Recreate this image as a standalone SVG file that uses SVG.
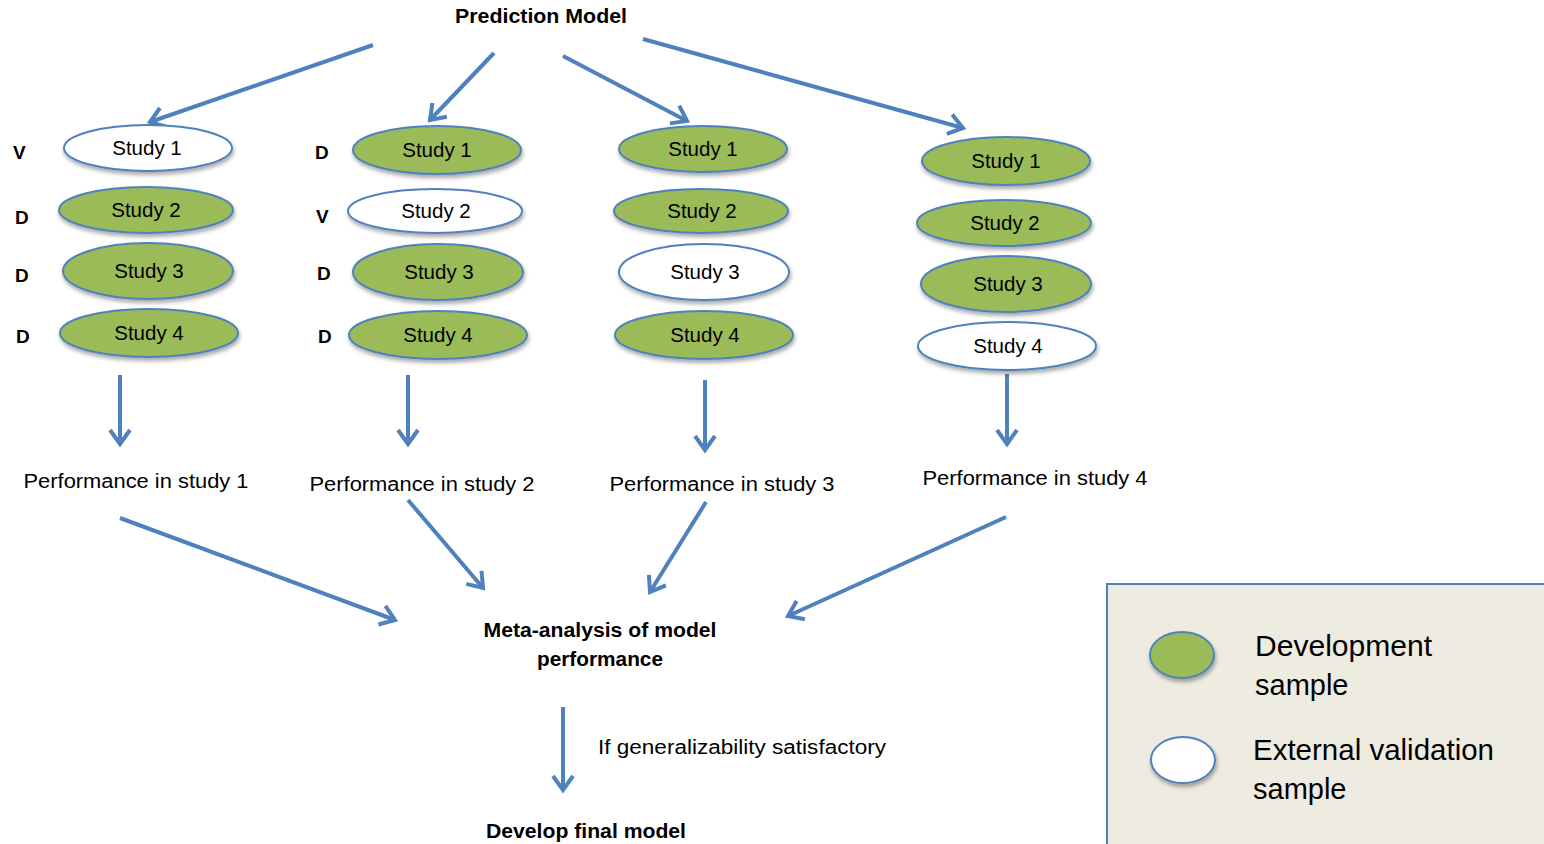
<svg xmlns="http://www.w3.org/2000/svg" width="1544" height="844" viewBox="0 0 1544 844">
<style>
.t{font-family:"Liberation Sans",Arial,sans-serif;fill:#000}
.s{font-size:20.5px;text-anchor:middle}
.p{font-size:20px;text-anchor:middle}
.b{font-weight:bold}
.dev{fill:#9bbb59;stroke:#4f81bd;stroke-width:2;filter:url(#sh)}
.val{fill:#fff;stroke:#4f81bd;stroke-width:2;filter:url(#sh)}
.c{stroke:#4f81bd;stroke-width:4;fill:none;marker-end:url(#ah)}
.lg{font-size:29px}
</style>
<defs>
<marker id="ah" markerUnits="userSpaceOnUse" viewBox="0 0 24 24" refX="20" refY="12" markerWidth="24" markerHeight="24" orient="auto">
<path d="M6,2 L20,12 L6,22" fill="none" stroke="#4f81bd" stroke-width="4" stroke-linejoin="miter"/>
</marker>
<filter id="sh" x="-20%" y="-30%" width="140%" height="170%">
<feGaussianBlur in="SourceAlpha" stdDeviation="2"/>
<feOffset dx="1" dy="3" result="o"/>
<feComponentTransfer><feFuncA type="linear" slope="0.35"/></feComponentTransfer>
<feMerge><feMergeNode/><feMergeNode in="SourceGraphic"/></feMerge>
</filter>
</defs>
<rect width="1544" height="844" fill="#fff"/>

<g id="legend">
<rect x="1107" y="584" width="440" height="264" fill="#eeebe1" stroke="#4f81bd" stroke-width="2"/>
<ellipse class="dev" cx="1182" cy="655" rx="32" ry="23"/>
<ellipse class="val" cx="1183" cy="760" rx="32" ry="23"/>
<text class="t lg" x="1255" y="656" textLength="177" lengthAdjust="spacingAndGlyphs">Development</text>
<text class="t lg" x="1255" y="695">sample</text>
<text class="t lg" x="1253" y="760" textLength="241" lengthAdjust="spacingAndGlyphs">External validation</text>
<text class="t lg" x="1253" y="799">sample</text>
</g>

<g id="connectors">
<line class="c" x1="373" y1="45" x2="150" y2="122"/>
<line class="c" x1="494" y1="53" x2="430" y2="120"/>
<line class="c" x1="563" y1="56" x2="687" y2="121"/>
<line class="c" x1="643" y1="39" x2="963" y2="128"/>
<line class="c" x1="120" y1="375" x2="120" y2="444"/>
<line class="c" x1="408" y1="375" x2="408" y2="444"/>
<line class="c" x1="705" y1="380" x2="705" y2="450"/>
<line class="c" x1="1007" y1="374" x2="1007" y2="444"/>
<line class="c" x1="120" y1="518" x2="395" y2="620"/>
<line class="c" x1="408" y1="500" x2="483" y2="588"/>
<line class="c" x1="706" y1="502" x2="650" y2="592"/>
<line class="c" x1="1006" y1="517" x2="788" y2="616"/>
<line class="c" x1="563" y1="707" x2="563" y2="790"/>
</g>

<g id="prediction-model"><text class="t p b" x="541" y="23" textLength="172" lengthAdjust="spacingAndGlyphs">Prediction Model</text></g>

<g id="col1">
<text class="t b" x="13" y="159" font-size="19">V</text>
<text class="t b" x="15" y="224" font-size="19">D</text>
<text class="t b" x="15" y="282" font-size="19">D</text>
<text class="t b" x="16" y="343" font-size="19">D</text>
<g id="c1s1"><ellipse class="val" cx="148" cy="148" rx="84" ry="23"/><text class="t s" x="147" y="155">Study 1</text></g>
<g id="c1s2"><ellipse class="dev" cx="146" cy="210" rx="87" ry="23"/><text class="t s" x="146" y="217">Study 2</text></g>
<g id="c1s3"><ellipse class="dev" cx="148" cy="271" rx="85" ry="28"/><text class="t s" x="149" y="278">Study 3</text></g>
<g id="c1s4"><ellipse class="dev" cx="149" cy="333" rx="89" ry="24"/><text class="t s" x="149" y="340">Study 4</text></g>
<g id="perf1"><text class="t p" x="136" y="488" textLength="225" lengthAdjust="spacingAndGlyphs">Performance in study 1</text></g>
</g>

<g id="col2">
<text class="t b" x="315" y="159" font-size="19">D</text>
<text class="t b" x="316" y="223" font-size="19">V</text>
<text class="t b" x="317" y="280" font-size="19">D</text>
<text class="t b" x="318" y="343" font-size="19">D</text>
<g id="c2s1"><ellipse class="dev" cx="437" cy="150" rx="84" ry="24"/><text class="t s" x="437" y="157">Study 1</text></g>
<g id="c2s2"><ellipse class="val" cx="435" cy="211" rx="87" ry="22"/><text class="t s" x="436" y="218">Study 2</text></g>
<g id="c2s3"><ellipse class="dev" cx="438" cy="272" rx="85" ry="28"/><text class="t s" x="439" y="279">Study 3</text></g>
<g id="c2s4"><ellipse class="dev" cx="438" cy="335" rx="89" ry="24"/><text class="t s" x="438" y="342">Study 4</text></g>
<g id="perf2"><text class="t p" x="422" y="491" textLength="225" lengthAdjust="spacingAndGlyphs">Performance in study 2</text></g>
</g>

<g id="col3">
<g id="c3s1"><ellipse class="dev" cx="703" cy="149" rx="84" ry="23"/><text class="t s" x="703" y="156">Study 1</text></g>
<g id="c3s2"><ellipse class="dev" cx="701" cy="211" rx="87" ry="22"/><text class="t s" x="702" y="218">Study 2</text></g>
<g id="c3s3"><ellipse class="val" cx="704" cy="272" rx="85" ry="28"/><text class="t s" x="705" y="279">Study 3</text></g>
<g id="c3s4"><ellipse class="dev" cx="704" cy="335" rx="89" ry="24"/><text class="t s" x="705" y="342">Study 4</text></g>
<g id="perf3"><text class="t p" x="722" y="491" textLength="225" lengthAdjust="spacingAndGlyphs">Performance in study 3</text></g>
</g>

<g id="col4">
<g id="c4s1"><ellipse class="dev" cx="1006" cy="161" rx="84" ry="24"/><text class="t s" x="1006" y="168">Study 1</text></g>
<g id="c4s2"><ellipse class="dev" cx="1004" cy="223" rx="87" ry="23"/><text class="t s" x="1005" y="230">Study 2</text></g>
<g id="c4s3"><ellipse class="dev" cx="1006" cy="284" rx="85" ry="28"/><text class="t s" x="1008" y="291">Study 3</text></g>
<g id="c4s4"><ellipse class="val" cx="1007" cy="346" rx="89" ry="24"/><text class="t s" x="1008" y="353">Study 4</text></g>
<g id="perf4"><text class="t p" x="1035" y="485" textLength="225" lengthAdjust="spacingAndGlyphs">Performance in study 4</text></g>
</g>

<g id="meta">
<text class="t p b" x="600" y="637" textLength="233" lengthAdjust="spacingAndGlyphs">Meta-analysis of model</text>
<text class="t p b" x="600" y="666" textLength="126" lengthAdjust="spacingAndGlyphs">performance</text>
</g>
<g id="cond"><text class="t" x="598" y="754" font-size="20" textLength="288" lengthAdjust="spacingAndGlyphs">If generalizability satisfactory</text></g>
<g id="final"><text class="t p b" x="586" y="838" textLength="200" lengthAdjust="spacingAndGlyphs">Develop final model</text></g>
</svg>
